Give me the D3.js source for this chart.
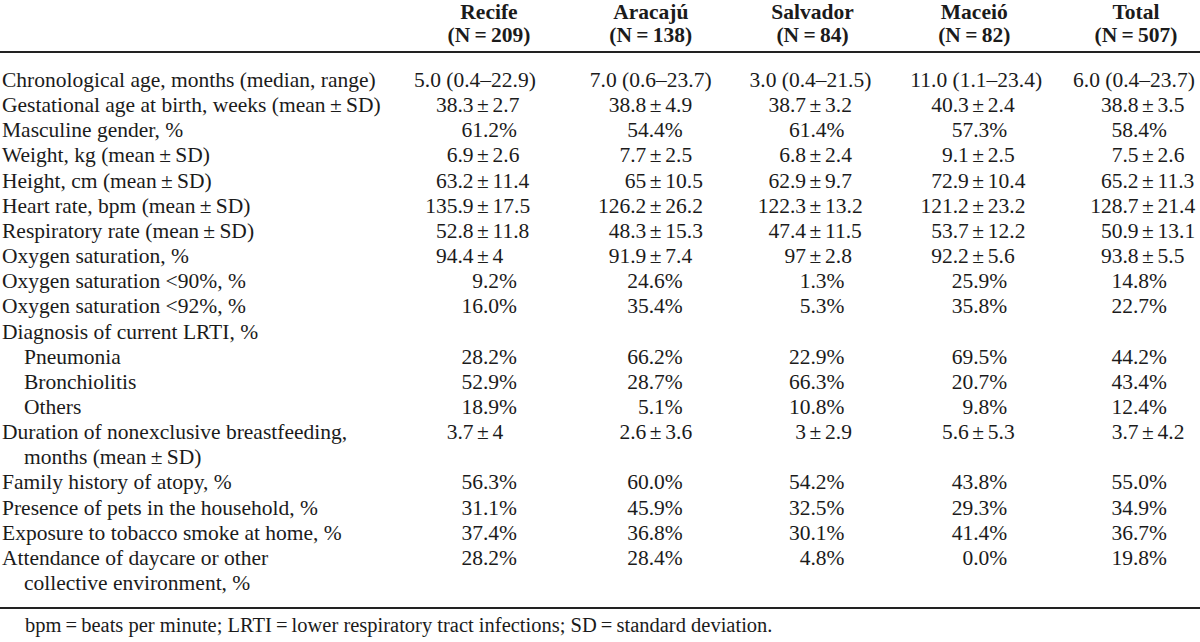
<!DOCTYPE html>
<html>
<head>
<meta charset="utf-8">
<script src="https://cdn.jsdelivr.net/npm/d3@7"></script>
<style>
  html, body { margin: 0; padding: 0; background: #fff; }
  svg { display: block; }
  text { font-family: "Liberation Serif", "Times New Roman", serif; fill: #1b1b1b; }
</style>
</head>
<body>
<svg id="chart" width="1200" height="642"></svg>
<script>
// ---------- DATA ----------
const groups = ["Recife", "Aracajú", "Salvador", "Maceió", "Total"];
const groupN = ["209", "138", "84", "82", "507"];

const rowLabels = [
  "Chronological age, months (median, range)",
  "Gestational age at birth, weeks (mean\u2009±\u2009SD)",
  "Masculine gender, %",
  "Weight, kg (mean\u2009±\u2009SD)",
  "Height, cm (mean\u2009±\u2009SD)",
  "Heart rate, bpm (mean\u2009±\u2009SD)",
  "Respiratory rate (mean\u2009±\u2009SD)",
  "Oxygen saturation, %",
  "Oxygen saturation <90%, %",
  "Oxygen saturation <92%, %",
  "Diagnosis of current LRTI, %",
  "Pneumonia",
  "Bronchiolitis",
  "Others",
  "Duration of nonexclusive breastfeeding,",
  "months (mean\u2009±\u2009SD)",
  "Family history of atopy, %",
  "Presence of pets in the household, %",
  "Exposure to tobacco smoke at home, %",
  "Attendance of daycare or other",
  "collective environment, %"
];
const indentedRows = [11, 12, 13, 15, 20];

const recife   = ["5.0 (0.4–22.9)", "38.3 ± 2.7", "61.2%", "6.9 ± 2.6", "63.2 ± 11.4", "135.9 ± 17.5", "52.8 ± 11.8", "94.4 ± 4", "9.2%", "16.0%", "", "28.2%", "52.9%", "18.9%", "3.7 ± 4", "", "56.3%", "31.1%", "37.4%", "28.2%", ""];
const aracaju  = ["7.0 (0.6–23.7)", "38.8 ± 4.9", "54.4%", "7.7 ± 2.5", "65 ± 10.5", "126.2 ± 26.2", "48.3 ± 15.3", "91.9 ± 7.4", "24.6%", "35.4%", "", "66.2%", "28.7%", "5.1%", "2.6 ± 3.6", "", "60.0%", "45.9%", "36.8%", "28.4%", ""];
const salvador = ["3.0 (0.4–21.5)", "38.7 ± 3.2", "61.4%", "6.8 ± 2.4", "62.9 ± 9.7", "122.3 ± 13.2", "47.4 ± 11.5", "97 ± 2.8", "1.3%", "5.3%", "", "22.9%", "66.3%", "10.8%", "3 ± 2.9", "", "54.2%", "32.5%", "30.1%", "4.8%", ""];
const maceio   = ["11.0 (1.1–23.4)", "40.3 ± 2.4", "57.3%", "9.1 ± 2.5", "72.9 ± 10.4", "121.2 ± 23.2", "53.7 ± 12.2", "92.2 ± 5.6", "25.9%", "35.8%", "", "69.5%", "20.7%", "9.8%", "5.6 ± 5.3", "", "43.8%", "29.3%", "41.4%", "0.0%", ""];
const total    = ["6.0 (0.4–23.7)", "38.8 ± 3.5", "58.4%", "7.5 ± 2.6", "65.2 ± 11.3", "128.7 ± 21.4", "50.9 ± 13.1", "93.8 ± 5.5", "14.8%", "22.7%", "", "44.2%", "43.4%", "12.4%", "3.7 ± 4.2", "", "55.0%", "34.9%", "36.7%", "19.8%", ""];

const footnote = "bpm\u2009=\u2009beats per minute; LRTI\u2009=\u2009lower respiratory tract infections; SD\u2009=\u2009standard deviation.";

// ---------- LAYOUT ----------
const W = 1200, H = 642;
const FS = 21.5;
const svg = d3.select("#chart");

const columns = [recife, aracaju, salvador, maceio, total];

const xCol = d3.scalePoint().domain(groups).range([489, 1136]);
const yRow = d3.scaleLinear().domain([0, rowLabels.length - 1]).range([87, 590]);

// offsets relative to column centre
const pmOffset = [-6, 5, 3, 4, 12];      // centre of the ± glyph
const pctOffset = [28, 32, 32, 33, 31];  // right edge of percentage values
const rangeOffset = [-14, 0, -2, 2, -2]; // centre of median (range) text
const pmGap = 9.5;

// header
const head = svg.append("g").attr("class", "header");
head.selectAll("text.gname").data(groups).join("text")
  .attr("class", "gname")
  .attr("x", d => xCol(d)).attr("y", 19)
  .attr("text-anchor", "middle")
  .attr("font-weight", "bold").attr("font-size", FS)
  .text(d => d);
head.selectAll("text.gn").data(groups).join("text")
  .attr("class", "gn")
  .attr("x", d => xCol(d)).attr("y", 42)
  .attr("text-anchor", "middle")
  .attr("font-weight", "bold").attr("font-size", FS)
  .text((d, i) => "(N\u2009=\u2009" + groupN[i] + ")");

// rules
svg.append("line").attr("x1", 0).attr("x2", W).attr("y1", 52).attr("y2", 52)
  .attr("stroke", "#222").attr("stroke-width", 2);
svg.append("line").attr("x1", 0).attr("x2", W).attr("y1", 608).attr("y2", 608)
  .attr("stroke", "#222").attr("stroke-width", 2);

// row labels
svg.append("g").selectAll("text").data(rowLabels).join("text")
  .attr("x", (d, i) => indentedRows.includes(i) ? 24 : 2)
  .attr("y", (d, i) => yRow(i))
  .attr("font-size", FS)
  .text(d => d);

// cells
columns.forEach((col, ci) => {
  const g = svg.append("g").attr("class", "col-" + ci);
  const cx = xCol(groups[ci]);
  col.forEach((v, ri) => {
    if (!v) return;
    const y = yRow(ri);
    if (v.includes("±")) {
      const [a, b] = v.split("±").map(s => s.trim());
      const px = cx + pmOffset[ci];
      g.append("text").attr("x", px - pmGap).attr("y", y).attr("text-anchor", "end").attr("font-size", FS).text(a);
      g.append("text").attr("x", px).attr("y", y).attr("text-anchor", "middle").attr("font-size", FS).text("±");
      g.append("text").attr("x", px + pmGap).attr("y", y).attr("text-anchor", "start").attr("font-size", FS).text(b);
    } else if (v.endsWith("%")) {
      g.append("text").attr("x", cx + pctOffset[ci]).attr("y", y).attr("text-anchor", "end").attr("font-size", FS).text(v);
    } else {
      g.append("text").attr("x", cx + rangeOffset[ci]).attr("y", y).attr("text-anchor", "middle").attr("font-size", FS).text(v);
    }
  });
});

// footnote
svg.append("text").attr("x", 25).attr("y", 632).attr("font-size", 20.5).text(footnote);
</script>
</body>
</html>
